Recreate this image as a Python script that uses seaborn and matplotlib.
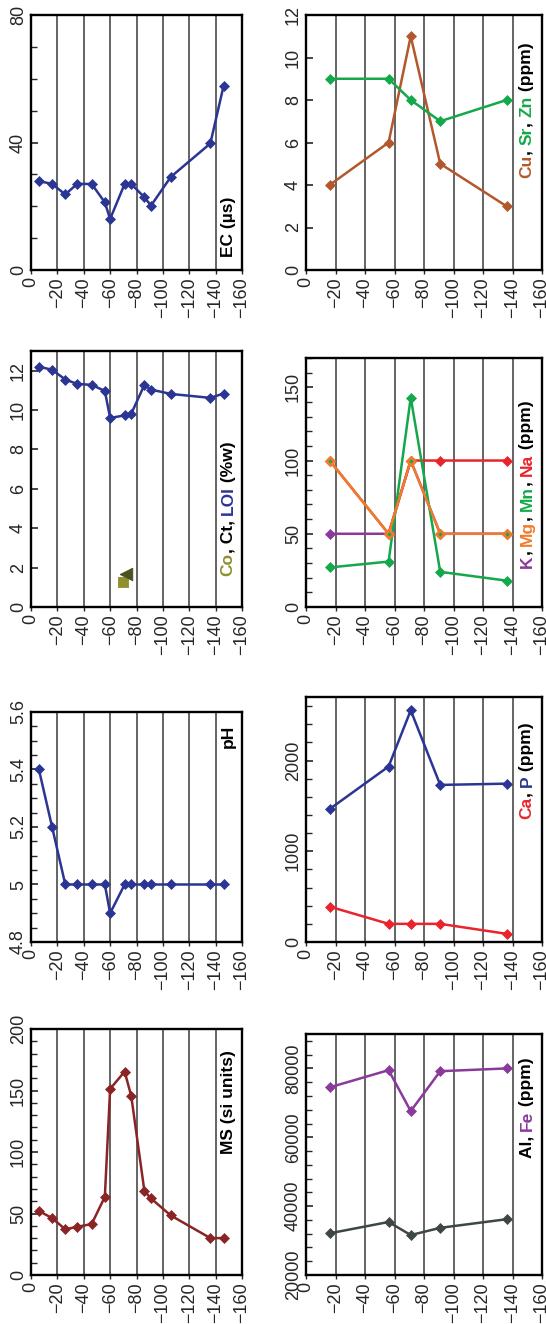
import numpy as np
import pandas as pd
import matplotlib
matplotlib.use("Agg")
import matplotlib.pyplot as plt
from matplotlib.ticker import MultipleLocator, FixedLocator
import seaborn as sns

# ---- depth profiles (cm) ----
depth_fine = [-6, -16, -26, -35, -46, -56, -60, -71, -76, -86, -91, -106, -136, -146]
depth_chem = [-16, -56, -71, -91, -136]

ec = [27.9, 27.0, 23.7, 27.0, 27.0, 21.2, 16.0, 27.0, 27.0, 22.8, 20.2, 29.2, 39.7, 57.7]
loi = [12.2, 12.05, 11.55, 11.33, 11.28, 10.97, 9.6, 9.73, 9.81, 11.28, 11.04, 10.82, 10.62, 10.84]
co_depth, co_val = [-70], [1.25]
ct_depth, ct_val = [-72], [1.69]
ph = [5.4, 5.2, 5.0, 5.0, 5.0, 5.0, 4.9, 5.0, 5.0, 5.0, 5.0, 5.0, 5.0, 5.0]
ms = [52, 46.3, 37.1, 39.2, 41.4, 63.6, 151.3, 165.4, 145.6, 68.2, 62.2, 48.4, 30, 30]

cu = [4, 6, 11, 5, 3]
sr = [9, 9, 8, 7, 8]
k = [50, 50, 100, 50, 50]
mg = [100, 50, 100, 50, 50]
mn = [27, 31, 143, 24, 18]
na = [100, 50, 100, 100, 100]
ca = [390, 200, 200, 200, 90]
p = [1465, 1934, 2553, 1731, 1745]
al = [32100, 35400, 31600, 33700, 36200]
fe = [74500, 79500, 67600, 79200, 80000]

depth_ticks = [0, -20, -40, -60, -80, -100, -120, -140, -160]
depth_labels = ["0", "\u221220", "\u221240", "\u221260", "\u221280", "\u2212100",
                "\u2212120", "\u2212140", "\u2212160"]

BLUE = "#2b3594"
DARKRED = "#8b2525"
BROWN = "#b2582c"
GREEN = "#14a84a"
PURPLE = "#8a3a9a"
ORANGE = "#f07b2c"
RED = "#e8252c"
GRAY = "#3d4846"
OLIVE = "#8f8f2e"
DARKOLIVE = "#4a5222"

sns.set_style("ticks")
plt.rcParams["font.family"] = ["Liberation Sans", "DejaVu Sans"]

W, H = 546, 1324
fig = plt.figure(figsize=(W / 100, H / 100), dpi=100)
fig.patch.set_facecolor("white")

TICK_FS = 13


def make_axes(x0, x1, y0, y1):
    return fig.add_axes([x0 / W, 1 - y1 / H, (x1 - x0) / W, (y1 - y0) / H])


def style_axes(ax, ylim, major, minor=None, fmt=None):
    ax.set_xlim(0, -160)
    ax.xaxis.set_major_locator(FixedLocator(depth_ticks))
    ax.set_xticklabels(depth_labels, rotation=90, fontsize=TICK_FS)
    ax.set_ylim(*ylim)
    ax.yaxis.set_major_locator(FixedLocator(major))
    ax.set_yticklabels([fmt(v) if fmt else str(v) for v in major], rotation=90,
                       va="center", fontsize=TICK_FS)
    if minor is not None:
        ax.yaxis.set_minor_locator(MultipleLocator(minor))
    ax.tick_params(axis="y", which="major", direction="in", length=5, width=1.2, pad=3)
    ax.tick_params(axis="y", which="minor", direction="in", length=4, width=1.0)
    ax.tick_params(axis="x", which="major", direction="out", length=3, width=1.0, pad=2)
    for x in depth_ticks[1:-1]:
        ax.axvline(x, color="#3a3a3a", lw=1.1, zorder=0.5)
    for s in ax.spines.values():
        s.set_linewidth(1.7)
        s.set_color("black")
        s.set_visible(True)
    ax.set_xlabel("")
    ax.set_ylabel("")
    legend = ax.get_legend()
    if legend is not None:
        legend.remove()


def profile(ax, depth, values, color, mfc=None, mew=0.5, ms=5.5, z=2):
    df = pd.DataFrame({"depth": depth, "value": values})
    sns.lineplot(data=df, x="depth", y="value", ax=ax, sort=False, color=color,
                 lw=1.8, marker="D", markersize=ms, markeredgecolor=color,
                 markerfacecolor=mfc if mfc else color, markeredgewidth=mew,
                 zorder=z)


def label(ax, x, y, parts, va="bottom"):
    """Rotated, multi-coloured bold label built from consecutive pieces."""
    fig.canvas.draw()
    renderer = fig.canvas.get_renderer()
    widths = []
    tmp = []
    for txt, col in parts:
        t = ax.text(0, 0, txt, fontsize=12.5, fontweight="bold", rotation=90,
                    rotation_mode="anchor", ha="left", va="baseline",
                    transform=ax.transAxes)
        tmp.append(t)
    total = 0
    for t in tmp:
        bb = t.get_window_extent(renderer)
        widths.append(bb.height)
        total += bb.height
        t.remove()
    ax_bb = ax.get_window_extent(renderer)
    px = ax_bb.x0 + x * ax_bb.width
    py = ax_bb.y0 + y * ax_bb.height
    if va == "top":
        py -= total
    inv = ax.transAxes.inverted()
    for (txt, col), w in zip(parts, widths):
        xa, ya = inv.transform((px, py))
        ax.text(xa, ya, txt, fontsize=12.5, fontweight="bold", rotation=90,
                rotation_mode="anchor", ha="left", va="baseline", color=col,
                transform=ax.transAxes)
        py += w


# ---- left column ----
ax_ec = make_axes(31, 242, 15, 270)
profile(ax_ec, depth_fine, ec, BLUE)
style_axes(ax_ec, (0, 80), [0, 40, 80], 10)

ax_loi = make_axes(31, 242, 351, 607)
profile(ax_loi, depth_fine, loi, BLUE)
sns.scatterplot(x=co_depth, y=co_val, ax=ax_loi, marker="s", s=60, color=OLIVE,
                edgecolor=OLIVE, zorder=3)
sns.scatterplot(x=ct_depth, y=ct_val, ax=ax_loi, marker="<", s=80, color=DARKOLIVE,
                edgecolor=DARKOLIVE, zorder=3)
style_axes(ax_loi, (0, 13), [0, 2, 4, 6, 8, 10, 12])

ax_ph = make_axes(31, 242, 712, 942)
profile(ax_ph, depth_fine, ph, BLUE)
style_axes(ax_ph, (4.8, 5.6), [4.8, 5.0, 5.2, 5.4, 5.6], 0.05,
           fmt=lambda v: ("%g" % v))

ax_ms = make_axes(31, 242, 1029, 1275)
profile(ax_ms, depth_fine, ms, DARKRED)
style_axes(ax_ms, (0, 200), [0, 50, 100, 150, 200], 10)

# ---- right column ----
ax_cu = make_axes(306, 542, 15, 270)
profile(ax_cu, depth_chem, cu, BROWN)
profile(ax_cu, depth_chem, sr, GREEN)
style_axes(ax_cu, (0, 12), [0, 2, 4, 6, 8, 10, 12])

ax_k = make_axes(306, 542, 358, 607)
profile(ax_k, depth_chem, k, PURPLE, z=2)
profile(ax_k, depth_chem, na, RED, z=2.1)
profile(ax_k, depth_chem, mn, GREEN, z=2.2)
profile(ax_k, depth_chem, mg, ORANGE, mfc=GREEN, mew=1.9, ms=4.5, z=2.3)
style_axes(ax_k, (0, 170), [0, 50, 100, 150], 10)

ax_ca = make_axes(306, 542, 697, 942)
profile(ax_ca, depth_chem, ca, RED)
profile(ax_ca, depth_chem, p, BLUE)
style_axes(ax_ca, (0, 2700), [0, 1000, 2000], 200)

ax_al = make_axes(306, 542, 1034, 1275)
profile(ax_al, depth_chem, al, GRAY)
profile(ax_al, depth_chem, fe, PURPLE)
style_axes(ax_al, (20000, 90000), [20000, 40000, 60000, 80000], 4000)

# ---- rotated labels ----
label(ax_ec, 0.955, 0.05, [("EC (\u00b5s)", "black")])
label(ax_loi, 0.955, 0.12, [("Co", OLIVE), (", Ct, ", "black"), ("LOI", BLUE),
                            (" (%w)", "black")])
label(ax_ph, 0.955, 0.945, [("pH", "black")], va="top")
label(ax_ms, 0.955, 0.915, [("MS (si units)", "black")], va="top")
label(ax_cu, 0.955, 0.36, [("Cu", BROWN), (", ", "black"), ("Sr", GREEN),
                           (", ", "black"), ("Zn", GREEN), (" (ppm)", "black")])
label(ax_k, 0.955, 0.157, [("K", PURPLE), (", ", "black"), ("Mg", ORANGE),
                           (", ", "black"), ("Mn", GREEN), (", ", "black"),
                           ("Na", RED), (" (ppm)", "black")])
label(ax_ca, 0.955, 0.898, [("Ca", RED), (", ", "black"), ("P", BLUE),
                            (" (ppm)", "black")], va="top")
label(ax_al, 0.955, 0.905, [("Al, ", "black"), ("Fe", PURPLE),
                            (" (ppm)", "black")], va="top")

fig.savefig("out.png", dpi=100, facecolor="white")
